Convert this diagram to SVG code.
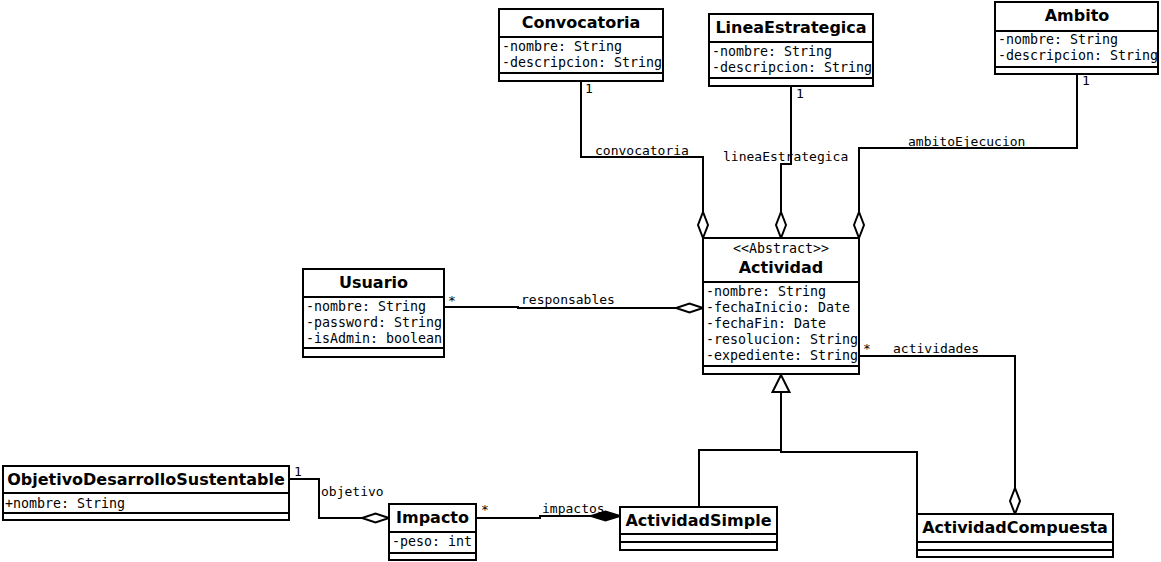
<svg xmlns="http://www.w3.org/2000/svg" width="1161" height="562" viewBox="0 0 1161 562">
<style>
.box{fill:#fff;stroke:#000;stroke-width:2}
.sep{stroke:#000;stroke-width:2}
.t{font-family:"DejaVu Sans",sans-serif;font-weight:bold;font-size:16px;text-anchor:middle;fill:#000}
.a{font-family:"DejaVu Sans Mono",monospace;font-size:13.3px;fill:#000}
.l{font-family:"DejaVu Sans Mono",monospace;font-size:13px;fill:#000}
.st{font-family:"DejaVu Sans Mono",monospace;font-size:13.3px;text-anchor:middle;fill:#000}
.c{fill:none;stroke:#000;stroke-width:2}
.od{fill:#fff;stroke:#000;stroke-width:2}
.fd{fill:#000;stroke:#000;stroke-width:2}
</style>
<rect width="1161" height="562" fill="#fff"/>
<g id="connectors">
  <polyline class="c" points="581,81 581,157 703,157 703,212"/>
  <polygon class="od" points="703,238 708,225 703,212 698,225"/>
  <polyline class="c" points="791,86 791,164 781,164 781,212"/>
  <polygon class="od" points="781,238 786,225 781,212 776,225"/>
  <polyline class="c" points="1077,74 1077,148 859,148 859,212"/>
  <polygon class="od" points="859,238 864,225 859,212 854,225"/>
  <polyline class="c" points="444,307 518,307 518,308 676,308"/>
  <polygon class="od" points="703,308 689.5,303.5 676,308 689.5,312.5"/>
  <polyline class="c" points="859,356 1015,356 1015,488"/>
  <polygon class="od" points="1015,514 1020,501 1015,488 1010,501"/>
  <polyline class="c" points="289,479 319,479 319,518 362,518"/>
  <polygon class="od" points="389,518 375.5,513.5 362,518 375.5,522.5"/>
  <polyline class="c" points="476,518 540,518 540,516 591,516"/>
  <polygon class="fd" points="620,516 605.5,511.5 591,516 605.5,520.5"/>
  <polyline class="c" points="699,507 699,450 781,450 781,392"/>
  <polyline class="c" points="917,514 917,452 781,452 781,392"/>
  <polygon class="od" points="781,375 789.5,392 772.5,392"/>
  <text class="l" x="585" y="93">1</text>
  <text class="l" x="595" y="155">convocatoria</text>
  <text class="l" x="796" y="98">1</text>
  <text class="l" x="723" y="161">lineaEstrategica</text>
  <text class="l" x="1082" y="85">1</text>
  <text class="l" x="908" y="146">ambitoEjecucion</text>
  <text class="l" x="448" y="305">*</text>
  <text class="l" x="521" y="304">responsables</text>
  <text class="l" x="863" y="353">*</text>
  <text class="l" x="893" y="353">actividades</text>
  <text class="l" x="294" y="476">1</text>
  <text class="l" x="321" y="496">objetivo</text>
  <text class="l" x="481" y="514">*</text>
  <text class="l" x="542" y="513">impactos</text>
</g>
<g id="Convocatoria">
  <rect class="box" x="499" y="9" width="164" height="72"/>
  <line class="sep" x1="499" y1="37" x2="663" y2="37"/>
  <line class="sep" x1="499" y1="73" x2="663" y2="73"/>
  <text class="t" x="581" y="28">Convocatoria</text>
  <text class="a" x="502" y="51">-nombre: String</text>
  <text class="a" x="502" y="67">-descripcion: String</text>
</g>
<g id="LineaEstrategica">
  <rect class="box" x="709" y="14" width="164" height="72"/>
  <line class="sep" x1="709" y1="42" x2="873" y2="42"/>
  <line class="sep" x1="709" y1="78" x2="873" y2="78"/>
  <text class="t" x="791" y="33">LineaEstrategica</text>
  <text class="a" x="712" y="56">-nombre: String</text>
  <text class="a" x="712" y="72">-descripcion: String</text>
</g>
<g id="Ambito">
  <rect class="box" x="995" y="2" width="163" height="72"/>
  <line class="sep" x1="995" y1="31" x2="1158" y2="31"/>
  <line class="sep" x1="995" y1="67" x2="1158" y2="67"/>
  <text class="t" x="1077" y="21">Ambito</text>
  <text class="a" x="998" y="44">-nombre: String</text>
  <text class="a" x="998" y="60">-descripcion: String</text>
</g>
<g id="Actividad">
  <rect class="box" x="703" y="238" width="156" height="136"/>
  <line class="sep" x1="703" y1="282" x2="859" y2="282"/>
  <line class="sep" x1="703" y1="366" x2="859" y2="366"/>
  <text class="st" x="781" y="253">&lt;&lt;Abstract&gt;&gt;</text>
  <text class="t" x="781" y="273">Actividad</text>
  <text class="a" x="706" y="296">-nombre: String</text>
  <text class="a" x="706" y="312">-fechaInicio: Date</text>
  <text class="a" x="706" y="328">-fechaFin: Date</text>
  <text class="a" x="706" y="344">-resolucion: String</text>
  <text class="a" x="706" y="360">-expediente: String</text>
</g>
<g id="Usuario">
  <rect class="box" x="303" y="269" width="141" height="88"/>
  <line class="sep" x1="303" y1="297" x2="444" y2="297"/>
  <line class="sep" x1="303" y1="348" x2="444" y2="348"/>
  <text class="t" x="373.5" y="288">Usuario</text>
  <text class="a" x="306" y="311">-nombre: String</text>
  <text class="a" x="306" y="327">-password: String</text>
  <text class="a" x="306" y="343">-isAdmin: boolean</text>
</g>
<g id="ObjetivoDesarrolloSustentable">
  <rect class="box" x="3" y="466" width="286" height="54"/>
  <line class="sep" x1="3" y1="493" x2="289" y2="493"/>
  <line class="sep" x1="3" y1="513" x2="289" y2="513"/>
  <text class="t" x="146" y="485">ObjetivoDesarrolloSustentable</text>
  <text class="a" x="5" y="508">+nombre: String</text>
</g>
<g id="Impacto">
  <rect class="box" x="389" y="504" width="87" height="56"/>
  <line class="sep" x1="389" y1="532" x2="476" y2="532"/>
  <line class="sep" x1="389" y1="553" x2="476" y2="553"/>
  <text class="t" x="432.5" y="523">Impacto</text>
  <text class="a" x="392" y="546">-peso: int</text>
</g>
<g id="ActividadSimple">
  <rect class="box" x="620" y="507" width="157" height="43"/>
  <line class="sep" x1="620" y1="534" x2="777" y2="534"/>
  <line class="sep" x1="620" y1="542" x2="777" y2="542"/>
  <text class="t" x="698.5" y="526">ActividadSimple</text>
</g>
<g id="ActividadCompuesta">
  <rect class="box" x="917" y="514" width="196" height="43"/>
  <line class="sep" x1="917" y1="542" x2="1113" y2="542"/>
  <line class="sep" x1="917" y1="550" x2="1113" y2="550"/>
  <text class="t" x="1015" y="533">ActividadCompuesta</text>
</g>
</svg>
